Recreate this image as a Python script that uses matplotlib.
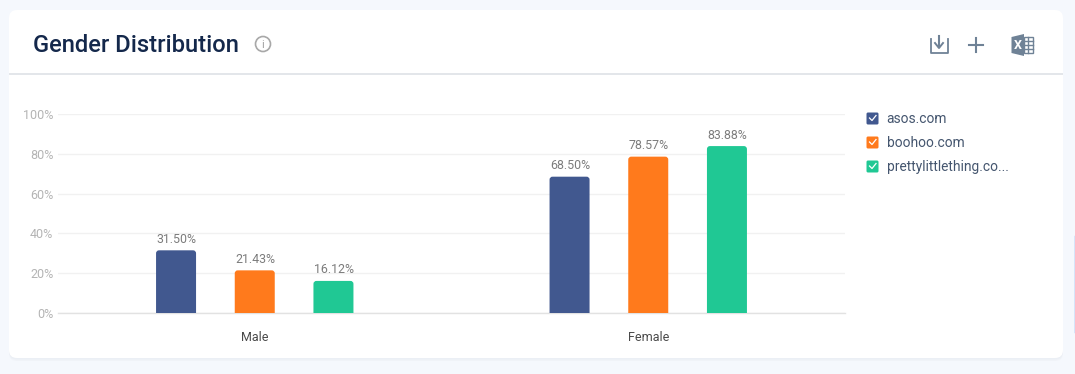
import matplotlib
matplotlib.use('Agg')
import matplotlib.pyplot as plt
from matplotlib.patches import FancyBboxPatch, Circle, Polygon, Rectangle

plt.rcParams['font.family'] = ['Roboto', 'DejaVu Sans']

categories = ['Male', 'Female']
sites = ['asos.com', 'boohoo.com', 'prettylittlething.co...']
asos = [31.50, 68.50]
boohoo = [21.43, 78.57]
plt_site = [16.12, 83.88]
yticks = [0, 20, 40, 60, 80, 100]
colors = ['#41588f', '#ff7a1c', '#20c894']

W, H = 1075, 374
fig = plt.figure(figsize=(W / 100, H / 100), dpi=100, facecolor='#f5f8fd')

# page layer in pixel coordinates, y going down like the screenshot
bg = fig.add_axes([0, 0, 1, 1])
bg.set_xlim(0, W)
bg.set_ylim(H, 0)
bg.axis('off')

for off, col in [(3, '#eef1f6'), (1.5, '#e9edf3')]:
    bg.add_patch(FancyBboxPatch((9, 10 + off), 1054, 348, boxstyle='round,pad=0,rounding_size=8',
                                fc=col, ec='none', alpha=0.6))
bg.add_patch(FancyBboxPatch((9, 10), 1054, 348, boxstyle='round,pad=0,rounding_size=8',
                            fc='white', ec='none'))
bg.plot([9, 1063], [74, 74], color='#e3e6ea', lw=1.4, solid_capstyle='butt')

bg.text(33, 45, 'Gender Distribution', fontsize=17.1, fontweight='medium', color='#14284b',
        va='center', ha='left')

# info icon
bg.add_patch(Circle((263, 44), 7.5, fc='none', ec='#a8a8a8', lw=1.2))
bg.text(263, 44.5, 'i', fontsize=8, color='#a0a0a0', ha='center', va='center')

# header icons
icon = '#6f8296'
bg.plot([931, 931, 947.5, 947.5], [39, 53, 53, 39], color=icon, lw=1.3)
bg.plot([939, 939], [36, 47], color=icon, lw=1.5)
bg.plot([935, 939, 943], [43, 48, 43], color=icon, lw=1.4)
bg.plot([969, 983], [45, 45], color=icon, lw=1.5)
bg.plot([976, 976], [38, 52], color=icon, lw=1.5)
bg.add_patch(Polygon([(1011.5, 37), (1024, 34), (1024, 56), (1011.5, 53)], fc=icon, ec='none'))
bg.text(1017.5, 45.5, 'X', fontsize=9, fontweight='bold', color='white', ha='center', va='center')
bg.add_patch(Rectangle((1024, 37), 9, 16, fc='none', ec=icon, lw=1))
for yy in [41, 45, 49]:
    bg.plot([1024, 1033], [yy, yy], color=icon, lw=1)
bg.plot([1028, 1028], [37, 53], color=icon, lw=1)

# legend with check boxes
for i, name in enumerate(sites):
    yy = 118.5 + i * 24
    bg.add_patch(FancyBboxPatch((866.5, yy - 6), 12, 12, boxstyle='round,pad=0,rounding_size=1.5',
                                fc=colors[i], ec='none'))
    bg.plot([869.5, 872, 876], [yy - 0.5, yy + 2, yy - 3], color='white', lw=0.9)
    bg.text(886.5, yy + 0.5, name, fontsize=9.9, color='#45566f', ha='left', va='center')

# chart
left, right, top, bottom = 58, 845, 114, 313
ax = fig.add_axes([left / W, 1 - bottom / H, (right - left) / W, (bottom - top) / H])
ax.patch.set_alpha(0)
ax.set_xlim(-0.5, 1.5)
ax.set_ylim(0, 100)
for s in ['top', 'right', 'left']:
    ax.spines[s].set_visible(False)
ax.spines['bottom'].set_color('#e2e2e2')
ax.spines['bottom'].set_linewidth(1)
ax.set_yticks(yticks)
ax.set_yticklabels([f'{t}%' for t in yticks], fontsize=9, color='#b4b4b4')
ax.set_xticks(range(len(categories)))
ax.set_xticklabels(categories, fontsize=9, color='#4a4a4a')
ax.tick_params(axis='both', length=0)
ax.tick_params(axis='y', pad=3.3)
ax.tick_params(axis='x', pad=13.2)
ax.grid(axis='y', color='#f1f1f1', lw=1)
ax.set_axisbelow(True)

bar_w = 40 / (right - left) * 2
step = 78.7 / (right - left) * 2
aspect = (100 / (bottom - top)) / (2 / (right - left))
series = [asos, boohoo, plt_site]
for i, vals in enumerate(series):
    for j, v in enumerate(vals):
        x = j + (i - 1) * step
        # bottom corners go below the axis and get clipped
        ax.add_patch(FancyBboxPatch((x - bar_w / 2, -3), bar_w, v + 3,
                                    boxstyle=f'round,pad=0,rounding_size={3 * 2 / (right - left)}',
                                    mutation_aspect=aspect, fc=colors[i], ec='none', zorder=3))
        ax.annotate(f'{v:.2f}%', (x + 0.001, v), xytext=(0, 3.2), textcoords='offset points', ha='center',
                    va='bottom', fontsize=8.9, color='#7c7c7c')

bg.plot([1074.5, 1074.5], [236, 332], color='#5b9bf0', lw=1)

fig.savefig('out.png', dpi=100, facecolor=fig.get_facecolor())
